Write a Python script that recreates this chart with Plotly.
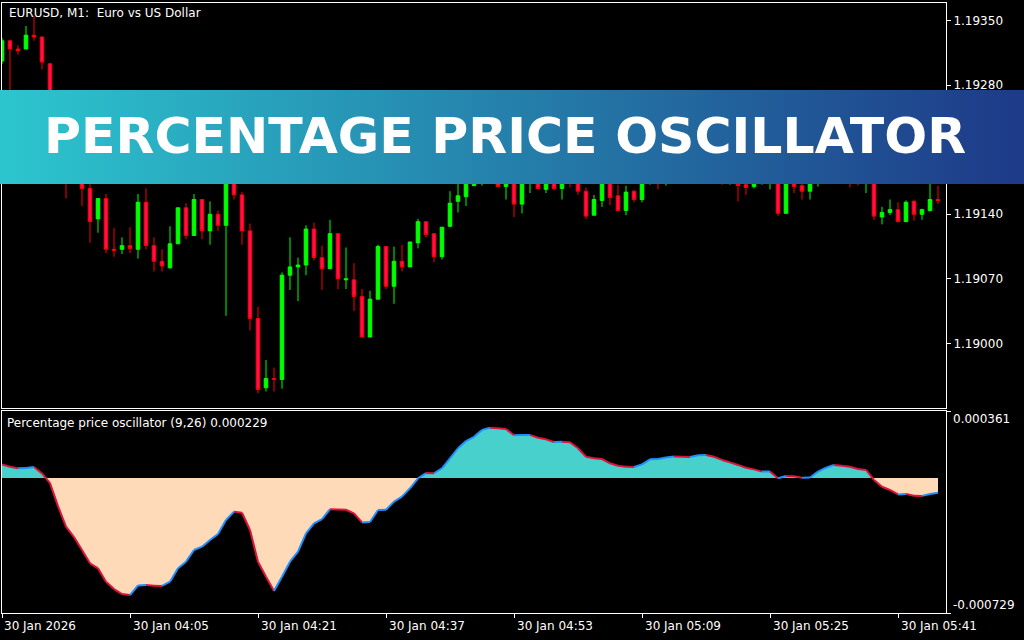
import plotly.graph_objects as go
import pandas as pd

# ---------------- data ----------------
start_time = "2026-01-30 03:49"
bar_count = 118
times = pd.date_range(start_time, periods=bar_count, freq="min")

opens = [1.19306, 1.19328, 1.19319, 1.19319, 1.19334, 1.19332, 1.19303, 1.19234, 1.19199, 1.19182,
         1.19193, 1.19168, 1.19135, 1.19157, 1.19102, 1.19102, 1.19106, 1.19102, 1.19153, 1.19106,
         1.19089, 1.19082, 1.19108, 1.19147, 1.19117, 1.19156, 1.19122, 1.19140, 1.19128, 1.19193,
         1.19161, 1.19122, 1.19027, 1.18952, 1.18962, 1.18961, 1.19074, 1.19083, 1.19085, 1.19124,
         1.19093, 1.19081, 1.19119, 1.19069, 1.19069, 1.19051, 1.19007, 1.19048, 1.19105, 1.19062,
         1.19089, 1.19083, 1.19109, 1.19132, 1.19119, 1.19094, 1.19127, 1.19154, 1.19159, 1.19171,
         1.19179, 1.19190, 1.19186, 1.19170, 1.19181, 1.19151, 1.19177, 1.19186, 1.19167, 1.19179,
         1.19168, 1.19181, 1.19175, 1.19165, 1.19139, 1.19155, 1.19175, 1.19160, 1.19144, 1.19165,
         1.19156, 1.19175, 1.19183, 1.19176, 1.19186, 1.19190, 1.19186, 1.19184, 1.19192, 1.19196,
         1.19183, 1.19177, 1.19182, 1.19172, 1.19170, 1.19176, 1.19177, 1.19179, 1.19141, 1.19175,
         1.19171, 1.19165, 1.19174, 1.19184, 1.19192, 1.19199, 1.19193, 1.19186, 1.19179, 1.19182,
         1.19137, 1.19142, 1.19145, 1.19132, 1.19154, 1.19140, 1.19144, 1.19156]
highs = [1.19331, 1.19328, 1.19323, 1.19344, 1.19355, 1.19333, 1.19304, 1.19242, 1.19204, 1.19199,
         1.19197, 1.19179, 1.19157, 1.19162, 1.19125, 1.19115, 1.19126, 1.19162, 1.19168, 1.19115,
         1.19102, 1.19127, 1.19147, 1.19152, 1.19162, 1.19156, 1.19154, 1.19144, 1.19199, 1.19201,
         1.19164, 1.19130, 1.19040, 1.18982, 1.18974, 1.19077, 1.19115, 1.19093, 1.19128, 1.19131,
         1.19106, 1.19134, 1.19119, 1.19104, 1.19087, 1.19059, 1.19057, 1.19107, 1.19105, 1.19105,
         1.19107, 1.19110, 1.19135, 1.19132, 1.19119, 1.19126, 1.19165, 1.19177, 1.19186, 1.19193,
         1.19196, 1.19199, 1.19190, 1.19186, 1.19184, 1.19183, 1.19190, 1.19188, 1.19181, 1.19183,
         1.19181, 1.19186, 1.19178, 1.19169, 1.19161, 1.19178, 1.19177, 1.19172, 1.19171, 1.19166,
         1.19179, 1.19188, 1.19186, 1.19190, 1.19195, 1.19193, 1.19190, 1.19197, 1.19201, 1.19199,
         1.19186, 1.19185, 1.19184, 1.19174, 1.19180, 1.19183, 1.19185, 1.19182, 1.19179, 1.19178,
         1.19173, 1.19177, 1.19188, 1.19196, 1.19204, 1.19201, 1.19196, 1.19188, 1.19186, 1.19186,
         1.19148, 1.19156, 1.19153, 1.19155, 1.19156, 1.19146, 1.19174, 1.19171]
lows = [1.19303, 1.19258, 1.19313, 1.19319, 1.19328, 1.19297, 1.19226, 1.19190, 1.19157, 1.19177,
        1.19149, 1.19109, 1.19120, 1.19098, 1.19094, 1.19097, 1.19098, 1.19092, 1.19102, 1.19078,
        1.19078, 1.19081, 1.19108, 1.19113, 1.19117, 1.19113, 1.19107, 1.19122, 1.19030, 1.19156,
        1.19107, 1.19014, 1.18946, 1.18948, 1.18948, 1.18951, 1.19058, 1.19046, 1.19074, 1.19090,
        1.19058, 1.19081, 1.19059, 1.19059, 1.19035, 1.19007, 1.19007, 1.19048, 1.19059, 1.19043,
        1.19078, 1.19083, 1.19103, 1.19115, 1.19088, 1.19091, 1.19126, 1.19142, 1.19149, 1.19171,
        1.19171, 1.19179, 1.19170, 1.19156, 1.19137, 1.19141, 1.19163, 1.19167, 1.19163, 1.19166,
        1.19156, 1.19169, 1.19161, 1.19135, 1.19139, 1.19148, 1.19150, 1.19144, 1.19139, 1.19153,
        1.19153, 1.19172, 1.19167, 1.19171, 1.19182, 1.19179, 1.19177, 1.19179, 1.19188, 1.19177,
        1.19172, 1.19172, 1.19154, 1.19161, 1.19168, 1.19172, 1.19167, 1.19138, 1.19141, 1.19163,
        1.19156, 1.19156, 1.19170, 1.19181, 1.19188, 1.19186, 1.19169, 1.19171, 1.19163, 1.19134,
        1.19129, 1.19139, 1.19132, 1.19132, 1.19133, 1.19134, 1.19143, 1.19151]
closes = [1.19328, 1.19319, 1.19317, 1.19334, 1.19332, 1.19305, 1.19234, 1.19199, 1.19182, 1.19193,
          1.19168, 1.19132, 1.19157, 1.19102, 1.19101, 1.19106, 1.19103, 1.19153, 1.19106, 1.19089,
          1.19084, 1.19108, 1.19147, 1.19117, 1.19156, 1.19122, 1.19140, 1.19128, 1.19193, 1.19161,
          1.19122, 1.19027, 1.18950, 1.18962, 1.18961, 1.19074, 1.19083, 1.19085, 1.19124, 1.19093,
          1.19081, 1.19119, 1.19070, 1.19070, 1.19051, 1.19007, 1.19048, 1.19105, 1.19062, 1.19089,
          1.19083, 1.19110, 1.19132, 1.19118, 1.19094, 1.19126, 1.19152, 1.19160, 1.19179, 1.19188,
          1.19190, 1.19186, 1.19170, 1.19181, 1.19151, 1.19179, 1.19186, 1.19168, 1.19179, 1.19168,
          1.19177, 1.19175, 1.19165, 1.19138, 1.19156, 1.19175, 1.19158, 1.19144, 1.19164, 1.19156,
          1.19175, 1.19183, 1.19176, 1.19186, 1.19190, 1.19186, 1.19184, 1.19192, 1.19196, 1.19183,
          1.19177, 1.19182, 1.19171, 1.19169, 1.19177, 1.19179, 1.19182, 1.19141, 1.19175, 1.19170,
          1.19165, 1.19174, 1.19184, 1.19192, 1.19199, 1.19193, 1.19186, 1.19179, 1.19182, 1.19138,
          1.19142, 1.19145, 1.19132, 1.19153, 1.19140, 1.19145, 1.19156, 1.19155]

ppo = [0.000073, 0.000060, 0.000052, 0.000053, 0.000059, 0.000024, -0.000028, -0.000152, -0.000263, -0.000319,
       -0.000389, -0.000461, -0.000488, -0.000560, -0.000600, -0.000627, -0.000632, -0.000580, -0.000578, -0.000582,
       -0.000583, -0.000560, -0.000488, -0.000452, -0.000389, -0.000371, -0.000335, -0.000303, -0.000227, -0.000182,
       -0.000188, -0.000281, -0.000452, -0.000533, -0.000610, -0.000533, -0.000452, -0.000398, -0.000299, -0.000245,
       -0.000223, -0.000169, -0.000171, -0.000172, -0.000191, -0.000240, -0.000238, -0.000173, -0.000172, -0.000128,
       -0.000101, -0.000056, -0.000002, 0.000026, 0.000025, 0.000052, 0.000106, 0.000160, 0.000199, 0.000222,
       0.000259, 0.000271, 0.000268, 0.000264, 0.000230, 0.000231, 0.000232, 0.000217, 0.000208, 0.000194,
       0.000195, 0.000192, 0.000160, 0.000114, 0.000106, 0.000102, 0.000079, 0.000066, 0.000060, 0.000059,
       0.000073, 0.000100, 0.000102, 0.000110, 0.000116, 0.000114, 0.000113, 0.000122, 0.000124, 0.000114,
       0.000097, 0.000084, 0.000070, 0.000055, 0.000046, 0.000034, 0.000035, -0.000002, 0.000010, 0.000009,
       0.000001, 0.000002, 0.000034, 0.000055, 0.000070, 0.000066, 0.000060, 0.000048, 0.000043, -0.000011,
       -0.000048, -0.000065, -0.000089, -0.000087, -0.000096, -0.000097, -0.000087, -0.000080]

price_ticks = [1.19000, 1.19070, 1.19140, 1.19280, 1.19350]
price_range = [1.189301, 1.193689]
ppo_range = [-0.000729, 0.000361]
ppo_tick_values = [0.000361, -0.000729]
time_ticks = ["2026-01-30 03:49", "2026-01-30 04:05", "2026-01-30 04:21", "2026-01-30 04:37",
              "2026-01-30 04:53", "2026-01-30 05:09", "2026-01-30 05:25", "2026-01-30 05:41"]
time_tick_text = ["30 Jan 2026", "30 Jan 04:05", "30 Jan 04:21", "30 Jan 04:37",
                  "30 Jan 04:53", "30 Jan 05:09", "30 Jan 05:25", "30 Jan 05:41"]
time_range = ["2026-01-30 03:49:00", "2026-01-30 05:47:00"]

symbol_title = "EURUSD, M1:\u00a0 Euro vs US Dollar"
indicator_title = "Percentage price oscillator (9,26) 0.000229"
banner_text = "PERCENTAGE PRICE OSCILLATOR"

# ---------------- style ----------------
W, H = 1024, 640
FONT = "DejaVu Sans"
WHITE = "#FFFFFF"
UP = "#00FF00"
DOWN_LINE = "#FF0000"
DOWN_FILL = "#FF1050"
POS_FILL = "#48D1CC"
NEG_FILL = "#FFDAB9"
RISE = "#1E90FF"
FALL = "#DC143C"


def px_x(p):
    return p / W


def px_y(p):
    return 1 - p / H


fig = go.Figure()

fig.add_trace(go.Candlestick(
    x=times, open=opens, high=highs, low=lows, close=closes,
    increasing=dict(line=dict(color=UP, width=1), fillcolor=UP),
    decreasing=dict(line=dict(color=DOWN_LINE, width=1), fillcolor=DOWN_FILL),
    xaxis="x", yaxis="y", hoverinfo="skip", showlegend=False,
))

# oscillator fill (split at zero crossings)
pos_x, pos_y, neg_x, neg_y = [], [], [], []
for i in range(bar_count):
    if i > 0:
        v0, v1 = ppo[i - 1], ppo[i]
        if (v0 > 0 > v1) or (v0 < 0 < v1):
            frac = v0 / (v0 - v1)
            tc = times[i - 1] + (times[i] - times[i - 1]) * frac
            pos_x.append(tc); pos_y.append(0.0)
            neg_x.append(tc); neg_y.append(0.0)
    pos_x.append(times[i]); pos_y.append(max(ppo[i], 0.0))
    neg_x.append(times[i]); neg_y.append(min(ppo[i], 0.0))

fig.add_trace(go.Scatter(x=pos_x, y=pos_y, mode="lines", fill="tozeroy",
                         fillcolor=POS_FILL, line=dict(width=0, color=POS_FILL),
                         xaxis="x2", yaxis="y2", hoverinfo="skip", showlegend=False))
fig.add_trace(go.Scatter(x=neg_x, y=neg_y, mode="lines", fill="tozeroy",
                         fillcolor=NEG_FILL, line=dict(width=0, color=NEG_FILL),
                         xaxis="x2", yaxis="y2", hoverinfo="skip", showlegend=False))

# two-coloured oscillator line
rx, ry, bx, by = [], [], [], []
rising = False
for i in range(1, bar_count):
    if ppo[i] > ppo[i - 1]:
        rising = True
    elif ppo[i] < ppo[i - 1]:
        rising = False
    tx, ty = (bx, by) if rising else (rx, ry)
    tx += [times[i - 1], times[i], None]
    ty += [ppo[i - 1], ppo[i], None]

fig.add_trace(go.Scatter(x=rx, y=ry, mode="lines", line=dict(color=FALL, width=2),
                         xaxis="x2", yaxis="y2", hoverinfo="skip", showlegend=False))
fig.add_trace(go.Scatter(x=bx, y=by, mode="lines", line=dict(color=RISE, width=2),
                         xaxis="x2", yaxis="y2", hoverinfo="skip", showlegend=False))

x_dom = [px_x(2), px_x(946)]
axis_common = dict(showgrid=False, zeroline=False, showline=True, mirror=True,
                   linecolor=WHITE, linewidth=1)

fig.update_layout(
    width=W, height=H,
    margin=dict(l=0, r=0, t=0, b=0),
    paper_bgcolor="#000000", plot_bgcolor="#000000",
    boxgap=0.36,
    showlegend=False,
    xaxis=dict(domain=x_dom, range=time_range, type="date", anchor="y",
               showticklabels=False, ticks="", rangeslider=dict(visible=False), **axis_common),
    yaxis=dict(domain=[px_y(408), px_y(3)], range=price_range, side="right", anchor="x",
               tickvals=price_ticks, tickformat=".5f", ticks="outside", ticklen=4,
               tickcolor=WHITE, tickfont=dict(family=FONT, size=12, color=WHITE), **axis_common),
    xaxis2=dict(domain=x_dom, range=time_range, type="date", anchor="y2", matches="x",
                tickvals=time_ticks, ticks="outside", ticklen=4, tickcolor=WHITE,
                showticklabels=False, **axis_common),
    yaxis2=dict(domain=[px_y(613), px_y(411)], range=ppo_range, side="right", anchor="x2",
                tickvals=ppo_tick_values, ticks="outside", ticklen=4, tickcolor=WHITE,
                showticklabels=False, **axis_common),
)

annotations = []
annotations.append(dict(text=symbol_title, xref="paper", yref="paper", x=px_x(7), y=px_y(13),
                        xanchor="left", yanchor="middle", showarrow=False,
                        font=dict(family=FONT, size=12, color=WHITE)))
annotations.append(dict(text=indicator_title, xref="paper", yref="paper", x=px_x(5), y=px_y(423),
                        xanchor="left", yanchor="middle", showarrow=False,
                        font=dict(family=FONT, size=12, color=WHITE)))
for t, lab in zip(time_ticks, time_tick_text):
    annotations.append(dict(text=lab, xref="x2", yref="paper", x=t, y=px_y(626),
                            xanchor="left", yanchor="middle", xshift=0 if lab.endswith("2026") else 1,
                            showarrow=False, font=dict(family=FONT, size=12, color=WHITE)))
ppo_label_y = [px_y(419), px_y(605)]
for v, yy in zip(ppo_tick_values, ppo_label_y):
    annotations.append(dict(text=f"{v:.6f}", xref="paper", yref="paper", x=px_x(951), y=yy,
                            xanchor="left", yanchor="middle", showarrow=False,
                            font=dict(family=FONT, size=12, color=WHITE)))
annotations.append(dict(text=banner_text, xref="paper", yref="paper", x=px_x(505), y=px_y(135),
                        xanchor="center", yanchor="middle", showarrow=False,
                        font=dict(family=FONT, size=50.5, color=WHITE, weight="bold")))
fig.update_layout(annotations=annotations)

# gradient banner
left_rgb = (44, 198, 206)
right_rgb = (30, 57, 136)
strips = 128
shapes = []
for s in range(strips):
    f = (s + 0.5) / strips
    c = tuple(round(left_rgb[j] + (right_rgb[j] - left_rgb[j]) * f) for j in range(3))
    shapes.append(dict(type="rect", xref="paper", yref="paper",
                       x0=s / strips, x1=(s + 1) / strips + 0.001,
                       y0=px_y(184), y1=px_y(90), line=dict(width=0),
                       fillcolor=f"rgb({c[0]},{c[1]},{c[2]})", layer="above"))
fig.update_layout(shapes=shapes)

fig.write_html(
    "out.html",
    config={"displayModeBar": False, "staticPlot": True},
    post_script="document.body.style.margin='0';document.body.style.padding='0';"
                "document.body.style.overflow='hidden';",
)
